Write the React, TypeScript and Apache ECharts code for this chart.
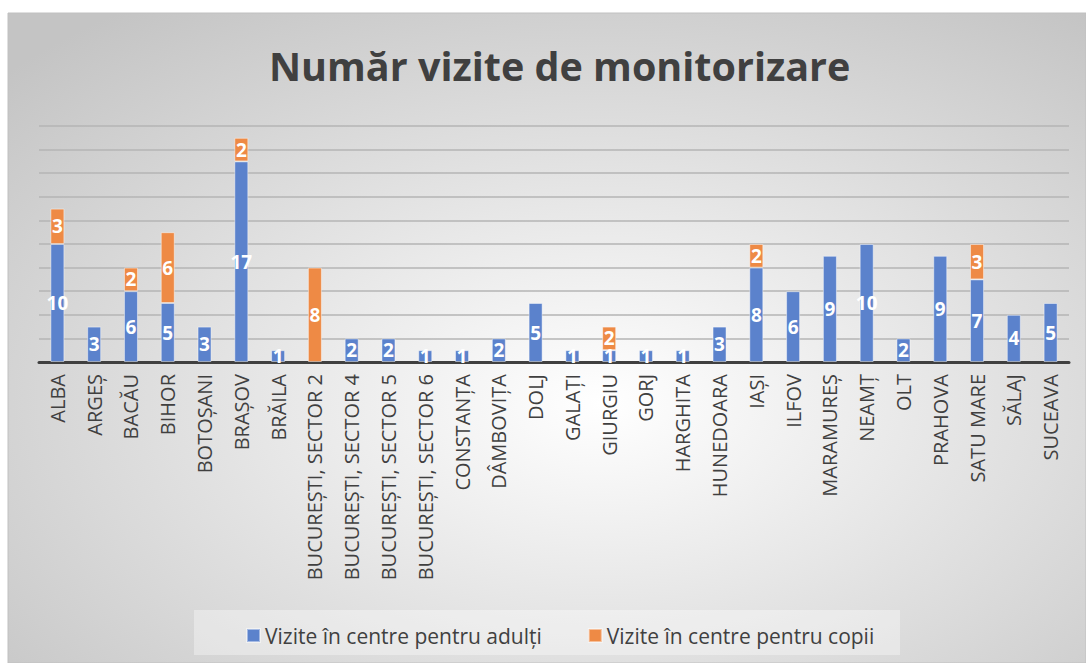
import React, { useEffect, useRef } from "react";
import * as echarts from "echarts";

const categories = [
  "ALBA", "ARGEȘ", "BACĂU", "BIHOR", "BOTOȘANI", "BRAȘOV", "BRĂILA",
  "BUCUREȘTI, SECTOR 2", "BUCUREȘTI, SECTOR 4", "BUCUREȘTI, SECTOR 5", "BUCUREȘTI, SECTOR 6",
  "CONSTANȚA", "DÂMBOVIȚA", "DOLJ", "GALAȚI", "GIURGIU", "GORJ", "HARGHITA", "HUNEDOARA",
  "IAȘI", "ILFOV", "MARAMUREȘ", "NEAMȚ", "OLT", "PRAHOVA", "SATU MARE", "SĂLAJ", "SUCEAVA",
];

const adulti = [10, 3, 6, 5, 3, 17, 1, null, 2, 2, 1, 1, 2, 5, 1, 1, 1, 1, 3, 8, 6, 9, 10, 2, 9, 7, 4, 5];
const copii = [3, null, 2, 6, null, 2, null, 8, null, null, null, null, null, null, null, 2, null, null, null, 2, null, null, null, null, null, 3, null, null];

const seriesNames = ["Vizite în centre pentru adulți", "Vizite în centre pentru copii"];
const title = "Număr vizite de monitorizare";

export default function App() {
  const ref = useRef<HTMLDivElement>(null);
  useEffect(() => {
    if (!ref.current) return;
    const chart = echarts.init(ref.current, null, { renderer: "svg" });
    const labelStyle = {
      show: true,
      position: "inside" as const,
      color: "#ffffff",
      fontSize: 19,
      fontWeight: "bold" as const,
      fontFamily: "Open Sans",
    };
    chart.setOption({
      animation: false,
      graphic: [
        {
          type: "rect",
          z: -10,
          shape: { x: 8, y: 13, width: 1078, height: 650 },
          style: {
            fill: new echarts.graphic.RadialGradient(0.55, 0.6, 0.75, [
              { offset: 0, color: "#ffffff" },
              { offset: 1, color: "#c4c4c4" },
            ]),
            stroke: "#c0c0c0",
            lineWidth: 1,
          },
        },
        {
          type: "rect",
          z: -9,
          shape: { x: 194, y: 610, width: 706, height: 45 },
          style: { fill: "rgba(255,255,255,0.35)" },
        },
      ],
      title: {
        text: title,
        left: 264,
        top: 41,
        textStyle: { fontSize: 39.5, fontWeight: "bold", color: "#404040", fontFamily: "Open Sans" },
      },
      legend: {
        left: 241,
        top: 620,
        itemWidth: 13,
        itemHeight: 13,
        itemGap: 46,
        icon: "rect",
        textStyle: { fontSize: 21, color: "#404040", fontFamily: "Open Sans" },
        data: seriesNames,
      },
      grid: { left: 39, right: 17, top: 126, bottom: 301, containLabel: false },
      xAxis: {
        type: "category",
        data: categories,
        axisLine: { lineStyle: { color: "#404040", width: 3 } },
        axisTick: { show: false },
        axisLabel: {
          rotate: 90,
          interval: 0,
          margin: 12,
          fontSize: 20,
          color: "#404040",
          fontFamily: "Open Sans",
        },
      },
      yAxis: {
        type: "value",
        min: 0,
        max: 20,
        interval: 2,
        axisLabel: { show: false },
        axisLine: { show: false },
        axisTick: { show: false },
        splitLine: { lineStyle: { color: "#b4b4b4", width: 1.5 } },
      },
      series: [
        {
          name: seriesNames[0],
          type: "bar",
          stack: "total",
          data: adulti,
          barWidth: 14,
          itemStyle: { color: "#5b82cc", borderColor: "rgba(255,255,255,0.45)", borderWidth: 1 },
          label: labelStyle,
        },
        {
          name: seriesNames[1],
          type: "bar",
          stack: "total",
          data: copii,
          barWidth: 14,
          itemStyle: { color: "#ee8a45", borderColor: "rgba(255,255,255,0.45)", borderWidth: 1 },
          label: labelStyle,
        },
      ],
    });
    return () => chart.dispose();
  }, []);
  return (
    <div
      ref={ref}
      style={{ position: "absolute", left: 0, top: 0, width: 1086, height: 663 }}
    />
  );
}
